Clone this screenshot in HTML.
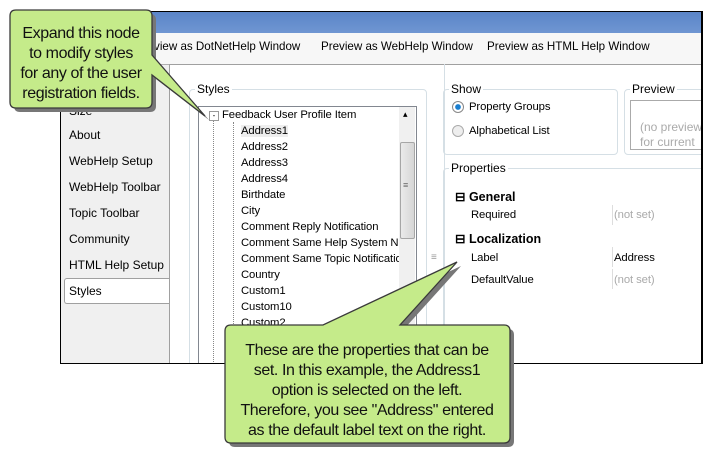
<!DOCTYPE html>
<html><head><style>
body{margin:0;width:703px;height:459px;background:#fff;position:relative;overflow:hidden;font-family:"Liberation Sans",sans-serif;font-size:12px;color:#000}
.a{position:absolute;white-space:nowrap}
.win{position:absolute;left:60px;top:11px;width:640px;height:351px;border:1px solid #000;border-right:2px solid #000;background:#f0f0f0;overflow:hidden}
.gb{position:absolute;border:1px solid #d5dfe5;border-radius:4px}
.gl{position:absolute;background:#fff;padding:0 2px;top:-8px;left:5px}
.t{font-size:11.3px;letter-spacing:-0.1px}
</style></head><body>
<div class="win">
 <div class="a" style="left:0;top:0;width:640px;height:21px;background:linear-gradient(#5b85c8,#6f96d2)"></div>
 <div class="a" style="left:0;top:21px;width:640px;height:31px;background:#f7f7f7;border-bottom:1px solid #b0b0b0"></div>
 <div class="a" style="left:75px;top:28px;font-size:11.6px"><span class="a" style="left:0">Preview as DotNetHelp Window</span><span class="a" style="left:185px">Preview as WebHelp Window</span><span class="a" style="left:351px">Preview as HTML Help Window</span></div>
 <div class="a" style="left:108px;top:52px;width:540px;height:300px;background:#fff;border-left:1px solid #a0a0a0;border-top:1px solid #a0a0a0"></div>
 <div class="a" style="left:8px;top:92px">Size</div>
 <div class="a" style="left:8px;top:116px">About</div>
 <div class="a" style="left:8px;top:142px">WebHelp Setup</div>
 <div class="a" style="left:8px;top:168px">WebHelp Toolbar</div>
 <div class="a" style="left:8px;top:194px">Topic Toolbar</div>
 <div class="a" style="left:8px;top:220px">Community</div>
 <div class="a" style="left:8px;top:246px">HTML Help Setup</div>
 <div class="a" style="left:3px;top:266px;width:105px;height:24px;background:#fff;border:1px solid #a0a0a0;border-right:none;border-radius:3px 0 0 3px"></div>
 <div class="a" style="left:8px;top:272px">Styles</div>
 <div class="a" style="left:108px;top:52px;width:1px;height:300px;background:#a0a0a0"></div>
 <div class="gb" style="left:128px;top:77px;width:236px;height:290px"><span class="gl">Styles</span></div>
 <div class="a" style="left:137px;top:94px;width:217px;height:270px;border:1px solid #828790;background:#fff"></div>
 <div class="a" style="left:338px;top:95px;width:16px;height:260px;background:#f0f0f0"></div>
 <div class="a" style="left:339px;top:130px;width:13px;height:95px;background:linear-gradient(90deg,#eaeaea,#d6d6d6);border:1px solid #a6a6a6;border-radius:2px"></div>
 <div class="a" style="left:342px;top:97px;font-size:9px">▴</div>
 <div class="a" style="left:342px;top:168px;font-size:9px;color:#666">≡</div>
 <div class="a" style="left:152px;top:108px;width:0;height:250px;border-left:1px dotted #888"></div>
 <div class="a" style="left:172px;top:110px;width:0;height:250px;border-left:1px dotted #888"></div>
 <div class="a" style="left:148px;top:99px;width:8px;height:8px;border:1px solid #999;font-size:8px;line-height:7px;text-align:center">-</div>
 <div class="a t" style="left:161px;top:97px">Feedback User Profile Item</div>
 <div class="a t" style="left:180px;top:113px;background:#eee">Address1</div>
 <div class="a t" style="left:180px;top:129px">Address2</div>
 <div class="a t" style="left:180px;top:145px">Address3</div>
 <div class="a t" style="left:180px;top:161px">Address4</div>
 <div class="a t" style="left:180px;top:177px">Birthdate</div>
 <div class="a t" style="left:180px;top:193px">City</div>
 <div class="a t" style="left:180px;top:209px">Comment Reply Notification</div>
 <div class="a t" style="left:180px;top:225px;width:158px;overflow:hidden">Comment Same Help System Notification</div>
 <div class="a t" style="left:180px;top:241px;width:158px;overflow:hidden">Comment Same Topic Notification</div>
 <div class="a t" style="left:180px;top:257px">Country</div>
 <div class="a t" style="left:180px;top:273px">Custom1</div>
 <div class="a t" style="left:180px;top:289px">Custom10</div>
 <div class="a t" style="left:180px;top:305px">Custom2</div>
 <div class="a" style="left:370px;top:240px;color:#999;font-size:10px">≡</div>
 <div class="a" style="left:383px;top:52px;width:1px;height:300px;background:#d5dfe5"></div>
 <div class="gb" style="left:382px;top:77px;width:173px;height:64px"><span class="gl">Show</span></div>
 <div class="a" style="left:391px;top:89px;width:10px;height:10px;border-radius:50%;border:1px solid #888;background:radial-gradient(#1a7fd0 35%,#fff 45%)"></div>
 <div class="a t" style="left:408px;top:89px">Property Groups</div>
 <div class="a" style="left:391px;top:113px;width:10px;height:10px;border-radius:50%;border:1px solid #aaa;background:#eee"></div>
 <div class="a t" style="left:408px;top:113px">Alphabetical List</div>
 <div class="gb" style="left:563px;top:77px;width:90px;height:64px"><span class="gl">Preview</span></div>
 <div class="a" style="left:569px;top:88px;width:90px;height:48px;border:1px solid #aaa"></div>
 <div class="a" style="left:579px;top:108px;color:#aaa;line-height:15px">(no preview<br>for current</div>
 <div class="gb" style="left:382px;top:156px;width:270px;height:210px"><span class="gl">Properties</span></div>
 <div class="a" style="left:394px;top:177px;font-weight:bold;font-size:12.5px">⊟ General</div>
 <div class="a t" style="left:410px;top:197px">Required</div>
 <div class="a" style="left:551px;top:193px;width:1px;height:20px;background:#ddd"></div>
 <div class="a t" style="left:553px;top:197px;color:#aaa">(not set)</div>
 <div class="a" style="left:394px;top:219px;font-weight:bold;font-size:12.5px">⊟ Localization</div>
 <div class="a t" style="left:410px;top:240px">Label</div>
 <div class="a" style="left:551px;top:235px;width:1px;height:20px;background:#ddd"></div>
 <div class="a t" style="left:553px;top:240px">Address</div>
 <div class="a t" style="left:410px;top:262px">DefaultValue</div>
 <div class="a" style="left:551px;top:257px;width:1px;height:20px;background:#ddd"></div>
 <div class="a t" style="left:553px;top:262px;color:#aaa">(not set)</div>
</div>
<svg class="a" style="left:0;top:0" width="703" height="459">
 <g fill="#777" transform="translate(4,4)">
  <path d="M16,10 H146 Q152,10 152,16 V55 L205,116 L152,75 V102 Q152,108 146,108 H16 Q10,108 10,102 V16 Q10,10 16,10Z"/>
  <path d="M231,325 H323 L457,262 L400,325 H504 Q510,325 510,331 V437 Q510,443 504,443 H231 Q225,443 225,437 V331 Q225,325 231,325Z"/>
 </g>
 <g fill="#c5eb8a" stroke="#3a3a3a" stroke-width="1.3">
  <path d="M16,10 H146 Q152,10 152,16 V55 L205,116 L152,75 V102 Q152,108 146,108 H16 Q10,108 10,102 V16 Q10,10 16,10Z"/>
  <path d="M231,325 H323 L457,262 L400,325 H504 Q510,325 510,331 V437 Q510,443 504,443 H231 Q225,443 225,437 V331 Q225,325 231,325Z"/>
 </g>
 <g font-family="Liberation Sans, sans-serif" font-size="16" text-anchor="middle" fill="#111" letter-spacing="-0.4">
  <text x="81" y="38">Expand this node</text>
  <text x="81" y="58">to modify styles</text>
  <text x="81" y="78">for any of the user</text>
  <text x="81" y="98">registration fields.</text>
  <text x="367" y="355">These are the properties that can be</text>
  <text x="367" y="375">set. In this example, the Address1</text>
  <text x="367" y="395">option is selected on the left.</text>
  <text x="367" y="415">Therefore, you see "Address" entered</text>
  <text x="367" y="435">as the default label text on the right.</text>
 </g>
</svg>
</body></html>
